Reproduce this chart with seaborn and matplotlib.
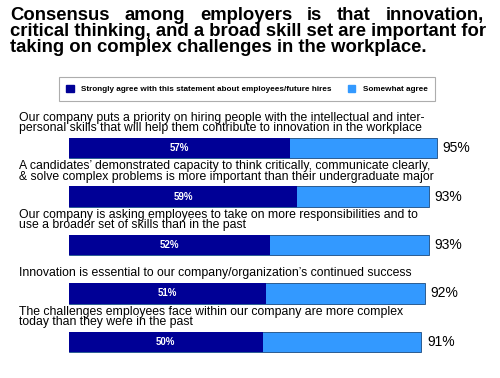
import matplotlib
matplotlib.use("Agg")
import matplotlib.pyplot as plt
import matplotlib.patches as mpatches
import seaborn as sns
import pandas as pd

statements = [
    "Our company puts a priority on hiring people with the intellectual and inter-\npersonal skills that will help them contribute to innovation in the workplace",
    "A candidates\u2019 demonstrated capacity to think critically, communicate clearly,\n& solve complex problems is more important than their undergraduate major",
    "Our company is asking employees to take on more responsibilities and to\nuse a broader set of skills than in the past",
    "Innovation is essential to our company/organization\u2019s continued success",
    "The challenges employees face within our company are more complex\ntoday than they were in the past",
]
strongly = [57, 59, 52, 51, 50]
total = [95, 93, 93, 92, 91]
series_names = ["Strongly agree with this statement about employees/future hires", "Somewhat agree"]

dark = "#000096"
light = "#3399FF"

sns.set_style("white")
plt.rcParams['font.family'] = ['Liberation Sans', 'DejaVu Sans']
plt.rcParams['text.color'] = 'black'

df = pd.DataFrame({"stmt": [f"s{i}" for i in range(len(statements))],
                   "strong": strongly, "total": total})

fig = plt.figure(figsize=(5, 3.78), dpi=100)
ax = fig.add_axes([69 / 500, 1 - 366 / 378, 387 / 500, (366 - 124) / 378])

sns.barplot(data=df, y="stmt", x="total", orient="h", color=light, width=0.42,
            edgecolor="#1a4a80", linewidth=0.6, saturation=1, ax=ax)
sns.barplot(data=df, y="stmt", x="strong", orient="h", color=dark, width=0.42,
            linewidth=0, saturation=1, ax=ax)

ax.set_xlim(0, 100)
ax.set_ylim(4.5, -0.5)
ax.axis("off")

for i, (s, st, tot) in enumerate(zip(statements, strongly, total)):
    ax.text(-12.9, i - 0.29, s, ha="left", va="bottom", fontsize=8.8,
            linespacing=0.8, clip_on=False)
    ax.text(st / 2, i, f"{st}%", ha="center", va="center", color="white",
            fontsize=7, fontweight="bold")
    ax.text(tot + 1.5, i, f"{tot}%", ha="left", va="center", fontsize=10,
            clip_on=False)

# title, first line justified across the full width
title_lines = ["Consensus among employers is that innovation,",
               "critical thinking, and a broad skill set are important for",
               "taking on complex challenges in the workplace."]
tkw = dict(ha="left", va="baseline", fontsize=13.3, fontweight="bold")
x0, x1 = 10, 484
renderer = fig.canvas.get_renderer()
words = title_lines[0].split()
wtexts = [fig.text(0, 0, w, **tkw) for w in words]
widths = [t.get_window_extent(renderer).width for t in wtexts]
gap = (x1 - x0 - sum(widths)) / (len(words) - 1)
x = x0
for t, w in zip(wtexts, widths):
    t.set_position((x / 500, 1 - 20 / 378))
    x += w + gap
for k, line in enumerate(title_lines[1:]):
    fig.text(x0 / 500, 1 - (20 + 16 * (k + 1)) / 378, line, **tkw)

handles = [mpatches.Patch(facecolor=dark, edgecolor=dark),
           mpatches.Patch(facecolor=light, edgecolor=light)]
leg = fig.legend(handles, series_names, loc="center", ncol=2,
                 bbox_to_anchor=(247 / 500, 1 - 89 / 378), frameon=True,
                 fancybox=False, edgecolor="#999999", handlelength=0.9,
                 handleheight=0.9, columnspacing=2.0, handletextpad=0.9,
                 prop={"size": 5.9, "weight": "bold"}, borderpad=0.95)
leg.get_frame().set_linewidth(0.8)

fig.savefig("out.png", dpi=100)
